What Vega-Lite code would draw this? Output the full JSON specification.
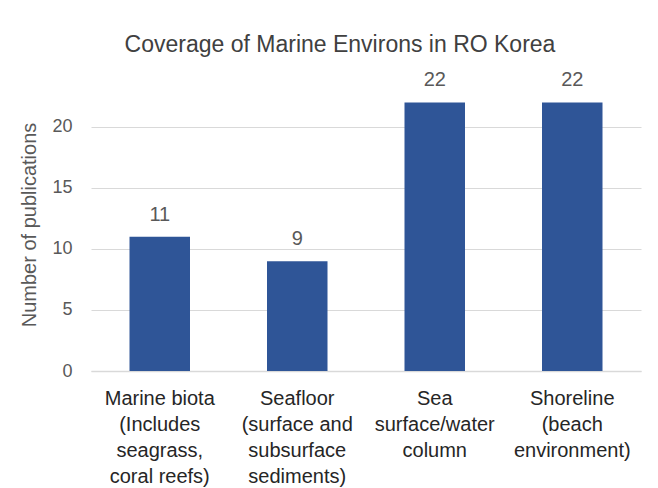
{
  "$schema": "https://vega.github.io/schema/vega-lite/v6.json",
  "autosize": {"type": "none"},
  "width": 550,
  "height": 293,
  "padding": {"left": 91, "top": 78, "right": 17, "bottom": 117},
  "background": "white",
  "config": {"view": {"stroke": null}, "font": "Liberation Sans"},
  "title": {
    "text": "Coverage of Marine Environs in RO Korea",
    "fontSize": 23,
    "fontWeight": "normal",
    "color": "#404040",
    "offset": 13,
    "dx": -26,
    "anchor": "middle"
  },
  "data": {
    "values": [
      {"category": "Marine biota\n(Includes\nseagrass,\ncoral reefs)", "count": 11},
      {"category": "Seafloor\n(surface and\nsubsurface\nsediments)", "count": 9},
      {"category": "Sea\nsurface/water\ncolumn", "count": 22},
      {"category": "Shoreline\n(beach\nenvironment)", "count": 22}
    ]
  },
  "encoding": {
    "x": {
      "field": "category",
      "type": "nominal",
      "sort": null,
      "scale": {"paddingInner": 0.56, "paddingOuter": 0.28},
      "axis": {
        "title": null,
        "labelAngle": 0,
        "labelExpr": "split(datum.label, '\\n')",
        "labelFontSize": 20,
        "labelColor": "#262626",
        "labelLineHeight": 26,
        "labelPadding": 17,
        "labelBaseline": "top",
        "ticks": false,
        "domainColor": "#d9d9d9",
        "domainWidth": 1.5,
        "labelLimit": 200
      }
    },
    "y": {
      "field": "count",
      "type": "quantitative",
      "scale": {"domain": [0, 24], "nice": false},
      "axis": {
        "title": "Number of publications",
        "titleFontSize": 20,
        "titleFontWeight": "normal",
        "titleColor": "#595959",
        "titlePadding": 12,
        "values": [0, 5, 10, 15, 20],
        "labelFontSize": 18,
        "labelColor": "#595959",
        "labelPadding": 19,
        "ticks": false,
        "domain": false,
        "gridColor": "#d9d9d9",
        "gridWidth": 1.2
      }
    }
  },
  "layer": [
    {"mark": {"type": "bar", "color": "#2F5597"}},
    {
      "mark": {"type": "text", "baseline": "bottom", "dy": -12, "fontSize": 20, "color": "#595959"},
      "encoding": {"text": {"field": "count", "type": "quantitative"}}
    }
  ]
}
